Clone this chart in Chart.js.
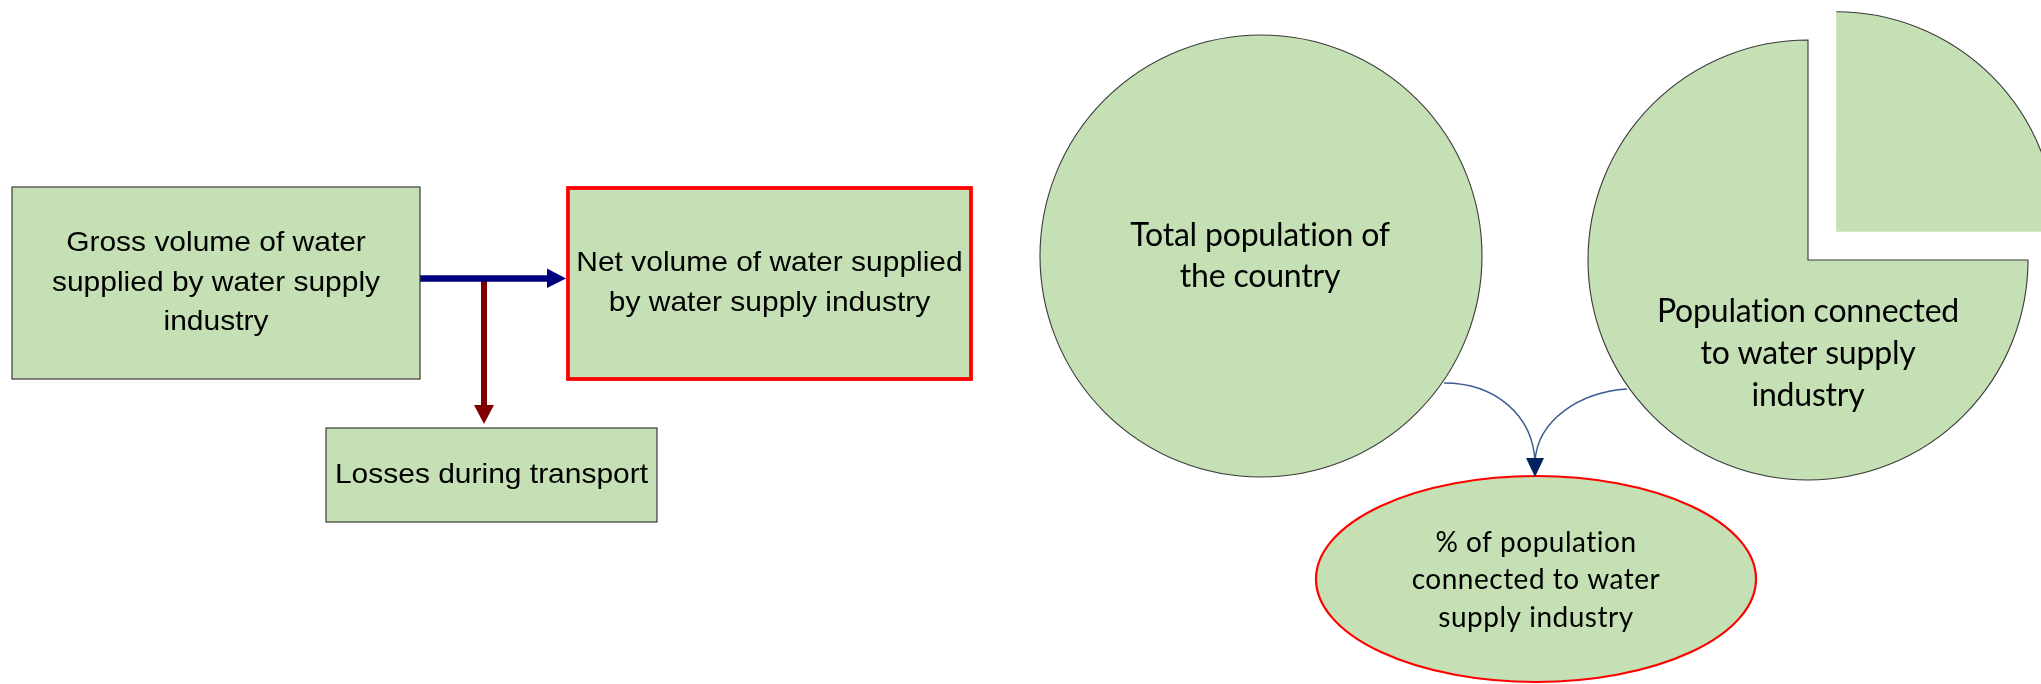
<!DOCTYPE html>
<html><head><meta charset="utf-8">
<script src="https://cdn.jsdelivr.net/npm/chart.js@4.4.1/dist/chart.umd.min.js"></script>
<style>html,body{margin:0;padding:0;background:#fff;overflow:hidden}#wrap{width:2041px;height:684px;position:relative}</style>
</head><body><div id="wrap"><canvas id="c"></canvas></div>
<script>
// ---------------- data ----------------
const flowNodes = ['Gross volume', 'Net volume', 'Losses'];
const flowLines = [
  ['Gross volume of water', 'supplied by water supply', 'industry'],
  ['Net volume of water supplied', 'by water supply industry'],
  ['Losses during transport']
];
const populationLines = [
  ['Total population of', 'the country'],
  ['Population connected', 'to water supply', 'industry'],
  ['% of population', 'connected to water', 'supply industry']
];
const totalPopulationShares = [100];
const connectedShares = [25, 75]; // exploded remainder, connected part

// ---------------- layout (axis units = px of the 2041x684 frame) ----------------
const GREEN = '#C5E0B4', EDGE = '#3A3A3A';
const layout = {
  boxes: [
    {x0: 12, y0: 187, x1: 420, y1: 379, stroke: EDGE, lw: 1.2},
    {x0: 568, y0: 188, x1: 971, y1: 379, stroke: '#FF0000', lw: 3.8},
    {x0: 326, y0: 428, x1: 657, y1: 522, stroke: EDGE, lw: 1.2}
  ],
  circle1: {cx: 1261, cy: 256, r: 221},
  circle2: {cx: 1808, cy: 260, r: 220, offset: 40},
  ellipse: {cx: 1536, cy: 579, rx: 220, ry: 103}
};

function drawText(ctx, lines, cx, cy, font, lh, opts) {
  opts = opts || {};
  ctx.save();
  ctx.fillStyle = '#000';
  ctx.font = font;
  if (opts.spacing) ctx.letterSpacing = opts.spacing;
  ctx.textAlign = 'center';
  ctx.textBaseline = 'middle';
  const sx = opts.scaleX || 1;
  ctx.translate(cx, 0);
  ctx.scale(sx, 1);
  const y0 = cy - (lines.length - 1) * lh / 2;
  lines.forEach((t, i) => ctx.fillText(t, 0, y0 + i * lh));
  ctx.restore();
}

const diagramPlugin = {
  id: 'diagram',
  afterDatasetsDraw(chart) {
    const ctx = chart.ctx;
    const sx = chart.scales.x, sy = chart.scales.y;
    const X = v => sx.getPixelForValue(v), Y = v => sy.getPixelForValue(v);
    const S = v => X(v) - X(0);

    // ---- arrows (left) ----
    ctx.save();
    ctx.strokeStyle = '#800000'; ctx.fillStyle = '#800000'; ctx.lineWidth = 6;
    ctx.beginPath(); ctx.moveTo(X(484), Y(281)); ctx.lineTo(X(484), Y(407)); ctx.stroke();
    ctx.beginPath(); ctx.moveTo(X(474), Y(405)); ctx.lineTo(X(494), Y(405)); ctx.lineTo(X(484), Y(424)); ctx.closePath(); ctx.fill();
    ctx.strokeStyle = '#00007E'; ctx.fillStyle = '#00007E'; ctx.lineWidth = 6.5;
    ctx.beginPath(); ctx.moveTo(X(420), Y(278.5)); ctx.lineTo(X(549), Y(278.5)); ctx.stroke();
    ctx.beginPath(); ctx.moveTo(X(547), Y(268.5)); ctx.lineTo(X(547), Y(288)); ctx.lineTo(X(566), Y(278.5)); ctx.closePath(); ctx.fill();
    ctx.restore();

    // ---- boxes ----
    layout.boxes.forEach(b => {
      ctx.save();
      ctx.fillStyle = GREEN;
      ctx.fillRect(X(b.x0), Y(b.y0), X(b.x1) - X(b.x0), Y(b.y1) - Y(b.y0));
      ctx.strokeStyle = b.stroke; ctx.lineWidth = b.lw;
      ctx.strokeRect(X(b.x0), Y(b.y0), X(b.x1) - X(b.x0), Y(b.y1) - Y(b.y0));
      ctx.restore();
    });
    const arialFont = '28px "Liberation Sans", Arial, sans-serif';
    drawText(ctx, flowLines[0], X(216), Y(283), arialFont, 39.5, {scaleX: 1.07});
    drawText(ctx, flowLines[1], X(769.5), Y(283), arialFont, 40, {scaleX: 1.07});
    drawText(ctx, flowLines[2], X(491.5), Y(475), arialFont, 40, {scaleX: 1.07});

    // ---- circle 1 ----
    const c1 = layout.circle1;
    const tot1 = totalPopulationShares.reduce((a, b) => a + b, 0);
    let a = -Math.PI / 2;
    totalPopulationShares.forEach(v => {
      const da = v / tot1 * Math.PI * 2;
      ctx.save();
      ctx.beginPath();
      ctx.arc(X(c1.cx), Y(c1.cy), S(c1.r), a, a + da);
      ctx.closePath();
      ctx.fillStyle = GREEN; ctx.fill();
      ctx.strokeStyle = EDGE; ctx.lineWidth = 1.1; ctx.stroke();
      ctx.restore();
      a += da;
    });

    // ---- circle 2 (pie with exploded slice) ----
    const c2 = layout.circle2;
    const tot2 = connectedShares.reduce((p, q) => p + q, 0);
    a = -Math.PI / 2;
    connectedShares.forEach((v, i) => {
      const da = v / tot2 * Math.PI * 2;
      const mid = a + da / 2;
      const off = i === 0 ? c2.offset : 0;
      const cx = X(c2.cx + Math.cos(mid) * off), cy = Y(c2.cy + Math.sin(mid) * off);
      ctx.save();
      ctx.beginPath();
      ctx.moveTo(cx, cy);
      ctx.arc(cx, cy, S(c2.r), a, a + da);
      ctx.closePath();
      ctx.fillStyle = GREEN; ctx.fill();
      ctx.strokeStyle = EDGE; ctx.lineWidth = 1.1;
      if (i === 0) {
        ctx.beginPath(); ctx.arc(cx, cy, S(c2.r), a, a + da); ctx.stroke();
      } else {
        ctx.stroke();
      }
      ctx.restore();
      a += da;
    });

    // ---- connectors ----
    ctx.save();
    ctx.strokeStyle = '#3B5A92'; ctx.lineWidth = 1.4;
    ctx.beginPath();
    ctx.moveTo(X(1444), Y(383));
    ctx.bezierCurveTo(X(1495), Y(383), X(1533), Y(415), X(1535), Y(462));
    ctx.stroke();
    ctx.beginPath();
    ctx.moveTo(X(1627), Y(389));
    ctx.bezierCurveTo(X(1580), Y(392), X(1537), Y(420), X(1535), Y(462));
    ctx.stroke();
    ctx.restore();

    // ---- ellipse ----
    const e = layout.ellipse;
    ctx.save();
    ctx.beginPath();
    ctx.ellipse(X(e.cx), Y(e.cy), S(e.rx), S(e.ry), 0, 0, Math.PI * 2);
    ctx.fillStyle = GREEN; ctx.fill();
    ctx.strokeStyle = '#FF0000'; ctx.lineWidth = 2.2; ctx.stroke();
    ctx.restore();

    ctx.save();
    ctx.fillStyle = '#002060';
    ctx.beginPath(); ctx.moveTo(X(1526), Y(458)); ctx.lineTo(X(1544), Y(458)); ctx.lineTo(X(1535), Y(477)); ctx.closePath(); ctx.fill();
    ctx.restore();

    const calFont = '32px Lato, "Open Sans", sans-serif';
    drawText(ctx, populationLines[0], X(1260), Y(256.5), calFont, 41, {spacing: '-0.2px'});
    drawText(ctx, populationLines[1], X(1808), Y(354), calFont, 42, {spacing: '-0.2px'});
    drawText(ctx, populationLines[2], X(1536), Y(580), '28px Lato, "Open Sans", sans-serif', 37.5, {spacing: '0.5px'});
  }
};

new Chart(document.getElementById('c'), {
  type: 'scatter',
  data: {labels: flowNodes, datasets: [{data: [], pointRadius: 0}]},
  options: {
    responsive: true, maintainAspectRatio: false, animation: false,
    layout: {padding: 0},
    plugins: {legend: {display: false}, tooltip: {enabled: false}, title: {display: false}},
    scales: {
      x: {type: 'linear', min: 0, max: 2041, display: false},
      y: {type: 'linear', min: 0, max: 684, reverse: true, display: false}
    }
  },
  plugins: [diagramPlugin]
});
</script></body></html>
